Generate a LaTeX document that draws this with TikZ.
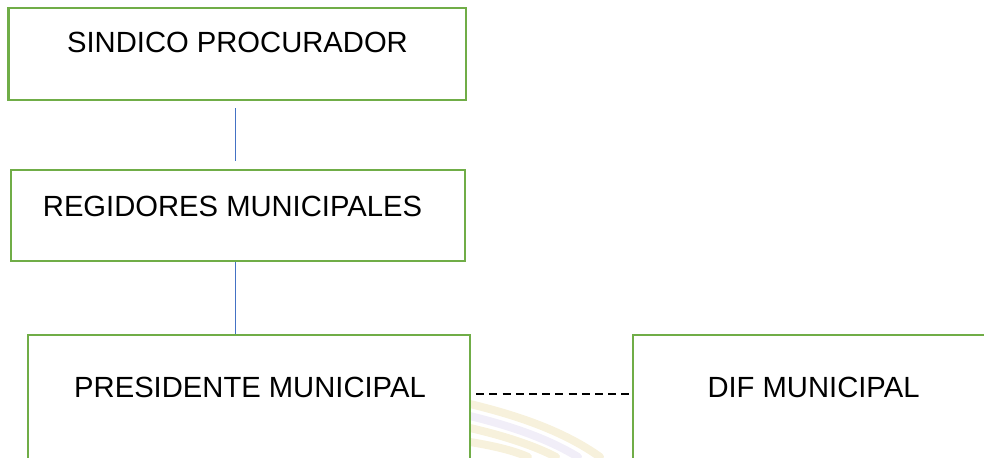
\documentclass[tikz,border=0pt]{standalone}
\usepackage{fontspec}
\setmainfont{Liberation Sans}
\usepackage{tikz}

\definecolor{boxgreen}{HTML}{70AD47}
\definecolor{lineblue}{HTML}{4472C4}
\definecolor{wmyellow}{HTML}{F7F1DC}
\definecolor{wmviolet}{HTML}{F1EEF8}

\begin{document}
\begin{tikzpicture}[x=0.5pt,y=-0.5pt,
  box/.style={draw=boxgreen,line width=1.25pt,fill=white,inner sep=0pt},
  lbl/.style={inner sep=0pt,font=\fontsize{14.6}{17}\selectfont},
  link/.style={draw=lineblue,line width=0.6pt},
  dashline/.style={draw=black,line width=0.6pt,dash pattern=on 4pt off 2.6pt},
  wmark/.style={line width=4pt,line cap=round}]
  \useasboundingbox (0,0) rectangle (984,457);
  \clip (0,0) rectangle (984,457);

  % faint watermark between the lower boxes
  \draw[wmark,wmyellow] (470,404) .. controls (520,416) and (565,432) .. (600,457);
  \draw[wmark,wmviolet] (470,416) .. controls (515,427) and (550,440) .. (578,457);
  \draw[wmark,wmyellow] (470,428) .. controls (505,436) and (535,446) .. (556,457);
  \draw[wmark,wmyellow] (470,442) .. controls (495,446) and (515,451) .. (528,457);

  % boxes
  \node (sindico) [box,minimum width=228.75pt,minimum height=46pt] at (237.25,54) {};
  \node (regidores) [box,minimum width=227pt,minimum height=45.5pt] at (238,215.5) {};
  \node (presidente) [box,minimum width=221pt,minimum height=82.5pt] at (249,417.5) {};
  \node (dif) [box,minimum width=183.5pt,minimum height=82.5pt] at (816.5,417.5) {};

  % texts
  \node (tsindico) [lbl] at (237.5,42.5) {SINDICO PROCURADOR};
  \node (tregidores) [lbl] at (232.5,206) {REGIDORES MUNICIPALES};
  \node (tpresidente) [lbl] at (250,387) {PRESIDENTE MUNICIPAL};
  \node (tdif) [lbl] at (813.5,387) {DIF MUNICIPAL};

  % connectors
  \coordinate (lx) at (235.7,0);
  \coordinate (dy) at (0,394);
  \draw[link,shorten <=3.5pt,shorten >=4pt] (sindico.south -| lx) -- (regidores.north -| lx);
  \draw[link] (regidores.south -| lx) -- (presidente.north -| lx);
  \draw[dashline,shorten <=2.5pt] (presidente.east |- dy) -- (dif.west |- dy);
\end{tikzpicture}
\end{document}
